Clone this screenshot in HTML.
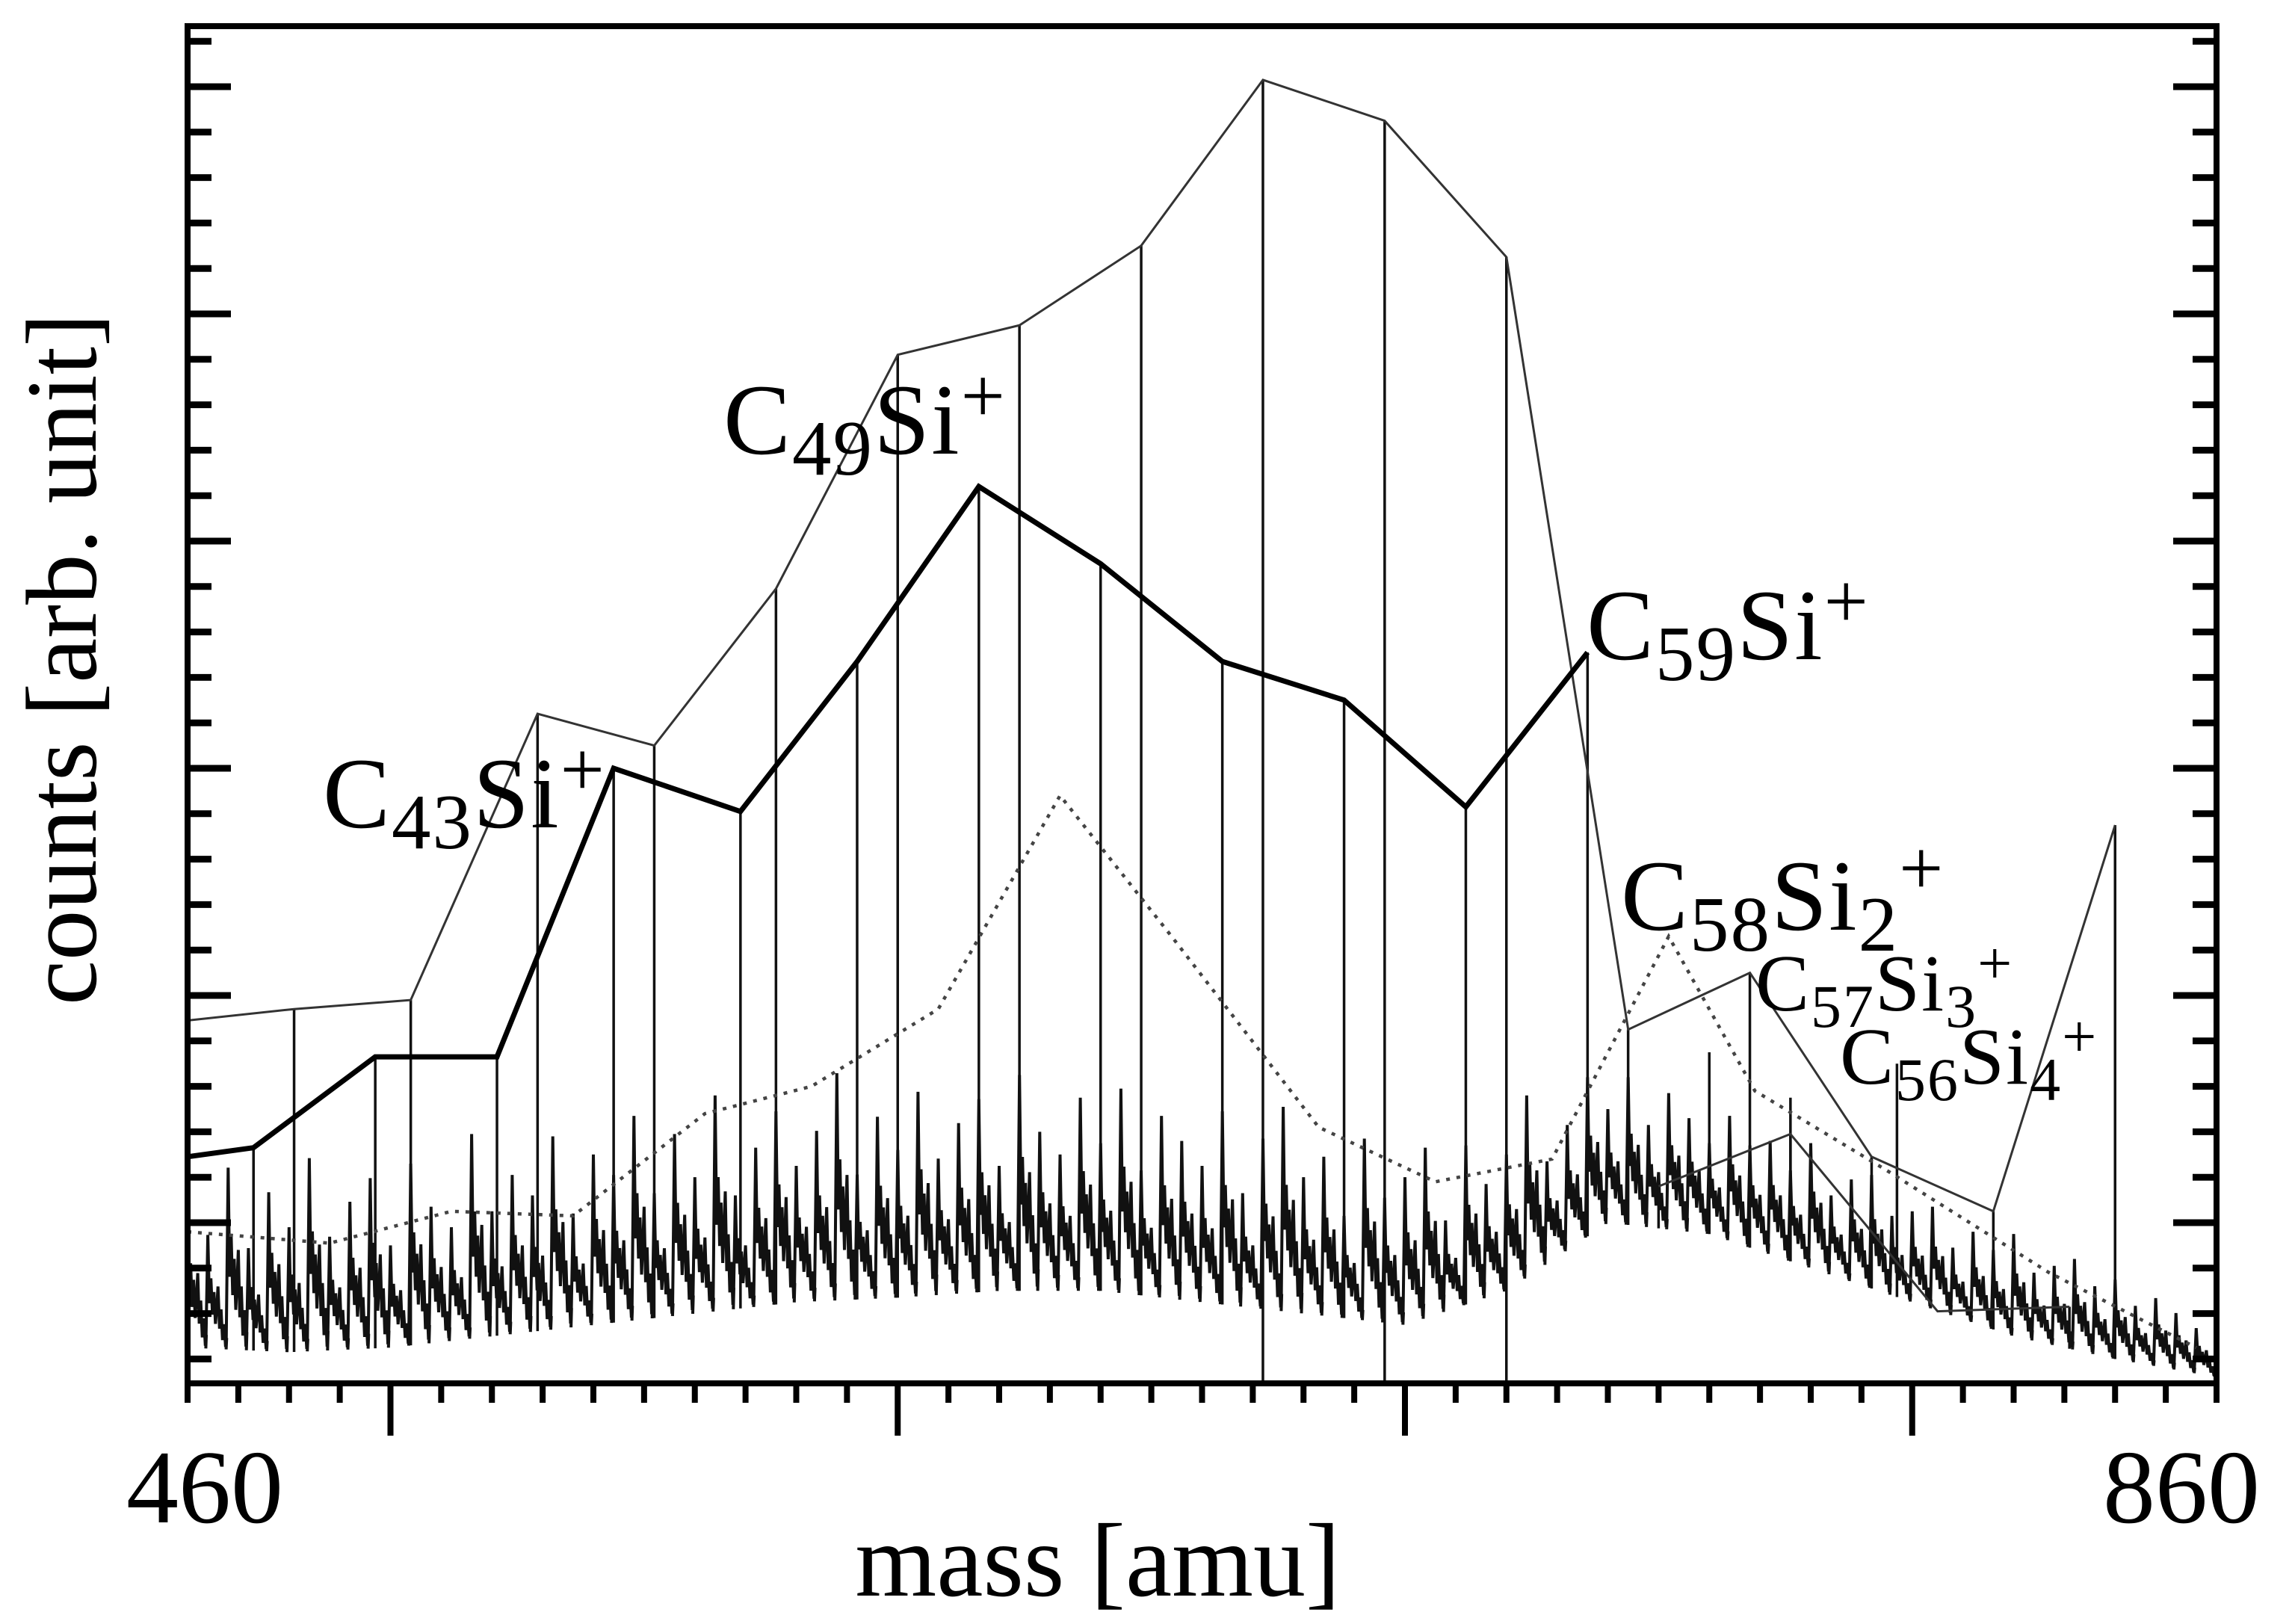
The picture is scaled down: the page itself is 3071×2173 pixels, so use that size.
<!DOCTYPE html>
<html><head><meta charset="utf-8"><style>
html,body{margin:0;padding:0;background:#fff;}
svg{display:block;}
text{font-family:"Liberation Serif",serif;fill:#000;}
</style></head><body>
<svg id="chart" width="3071" height="2173" viewBox="0 0 3071 2173" xmlns="http://www.w3.org/2000/svg">
<g id="noise"></g>
<g id="sticks"></g>
<g id="lines"></g>
<g id="axes"></g>
<g font-size="135" letter-spacing="2">
<text x="432" y="1107">C<tspan font-size="105" dy="28">43</tspan><tspan dy="-28">Si</tspan><tspan font-size="105" dy="-42">+</tspan></text>
<text x="968" y="607">C<tspan font-size="105" dy="28">49</tspan><tspan dy="-28">Si</tspan><tspan font-size="105" dy="-42">+</tspan></text>
<text x="2123" y="882">C<tspan font-size="105" dy="28">59</tspan><tspan dy="-28">Si</tspan><tspan font-size="105" dy="-42">+</tspan></text>
<text x="2169" y="1244">C<tspan font-size="105" dy="28">58</tspan><tspan dy="-28">Si</tspan><tspan font-size="105" dy="28">2</tspan><tspan font-size="105" dy="-75">+</tspan></text>
<text x="2349" y="1352" font-size="108">C<tspan font-size="82" dy="22">57</tspan><tspan dy="-22">Si</tspan><tspan font-size="82" dy="22">3</tspan><tspan font-size="82" dy="-58">+</tspan></text>
<text x="2462" y="1450" font-size="108">C<tspan font-size="82" dy="22">56</tspan><tspan dy="-22">Si</tspan><tspan font-size="82" dy="22">4</tspan><tspan font-size="82" dy="-58">+</tspan></text>
</g>
<text x="274" y="2037" font-size="140" text-anchor="middle">460</text>
<text x="2919" y="2037" font-size="140" text-anchor="middle">860</text>
<text x="1469" y="2135" font-size="140" text-anchor="middle">mass [amu]</text>
<text x="0" y="0" font-size="135" text-anchor="middle" transform="translate(128,882) rotate(-90)">counts [arb. unit]</text>
</svg>
<script>
const envMass=[460,481,504,529,552,576,600,624,648,672,696,720,744,768,792,816,840];
const envVal=[1.89,1.94,1.98,3.24,3.10,3.79,4.82,4.95,5.30,6.03,5.85,5.25,1.85,2.10,1.29,1.05,2.75];
const lowMass=[750,776,805,831];
const lowVal=[1.16,1.39,0.61,0.63];
const boldMass=[460,473,497,521,544,569,592,616,640,664,688,712,736];
const boldVal=[1.29,1.33,1.73,1.73,3.00,2.81,3.47,4.24,3.90,3.47,3.30,2.83,3.51];
const dotMass=[460,488,512,536,562,583,608,632,654,683,706,729,752,769,795,827,856];
const dotVal=[0.96,0.91,1.05,1.03,1.48,1.60,1.94,2.88,2.26,1.42,1.18,1.28,2.26,1.58,1.23,0.78,0.45];
const extraStickMass=[760,776,797,840];
const extraStickVal=[1.75,1.55,1.70,1.45];
const baseMass=[460,480,500,520,540,560,580,600,620,640,660,680,700,720,740,760,780,800,820,840,860];
const baseVal=[0.45,0.43,0.45,0.5,0.55,0.6,0.65,0.67,0.7,0.7,0.65,0.6,0.55,0.7,1.0,0.95,0.8,0.65,0.5,0.4,0.32];
const spikeVal=[0.6,0.5,0.8,0.45,0.7,0.55,0.85,0.5,0.65,0.75,0.45,0.8,0.6,0.5,0.9,0.55,0.7,0.6,0.85,0.5,
0.75,0.65,0.9,0.55,0.8,0.6,0.95,0.5,0.7,0.85,0.6,0.75,1.0,0.55,0.8,0.65,0.9,0.6,0.75,0.85,
0.55,0.95,0.7,0.6,0.85,0.65,0.9,0.55,0.8,0.7,0.6,0.85,0.5,0.75,0.9,0.6,0.7,0.45,0.8,0.55,
0.65,0.75,0.4,0.7,0.5,0.6,0.8,0.45,0.55,0.7,0.5,0.65,0.45,0.6,0.5,0.4,0.55,0.45,0.5,0.4,
0.55,0.35,0.45,0.5,0.35,0.4,0.45,0.3,0.4,0.35,0.45,0.3,0.35,0.4,0.3,0.35,0.25,0.3,0.25,0.2,0.2];
const xMajor=[500,600,700,800];
const yMajor=[1,2,3,4,5,6];

const NS='http://www.w3.org/2000/svg';
const L=251,R=2966,T=35,B=1851;
function X(m){return L+(m-460)*(R-L)/400;}
function Y(v){return 1636-(v-1)*304;}
function mk(tag,attrs,parent){const e=document.createElementNS(NS,tag);for(const k in attrs)e.setAttribute(k,attrs[k]);parent.appendChild(e);return e;}
function interp(xs,ys,x){if(x<=xs[0])return ys[0];for(let i=1;i<xs.length;i++){if(x<=xs[i]){const t=(x-xs[i-1])/(xs[i]-xs[i-1]);return ys[i-1]+t*(ys[i]-ys[i-1]);}}return ys[ys.length-1];}
function clampY(v){return Math.min(B,Math.max(T,Y(v)));}

// noise spectrum
const noiseG=document.getElementById('noise');
const offs=[-0.4,0,0.3,0.6,0.9,1.2,1.5,1.8,2.0,2.3,2.6,2.9,3.2,3.5,3.7];
const fr=[0,1,0.4,0.62,0.3,0.5,0.22,0.4,0.55,0.18,0.35,0.08,0.22,0.02,0.1];
let d='';
spikeVal.forEach((h,i)=>{
  const m=460+4*i;
  offs.forEach((o,k)=>{
    const mm=m+o; if(mm<460||mm>860)return;
    const b=interp(baseMass,baseVal,mm);
    const px=X(mm),py=clampY(b+h*fr[k]);
    d+=(d?'L':'M')+px.toFixed(1)+','+py.toFixed(1);
  });
});
const np=mk('path',{d:d,fill:'none',stroke:'#111','stroke-width':4,'stroke-linejoin':'miter'},noiseG);



// sticks
const sticksG=document.getElementById('sticks');
function stick(m,v,full){
  const b=full?0.29:interp(baseMass,baseVal,m);
  const s=mk('line',{x1:X(m),x2:X(m),y1:clampY(v),y2:clampY(b),stroke:'#111','stroke-width':3.5},sticksG);
  
  
}
envMass.forEach((m,i)=>{if(i>0)stick(m,envVal[i],m>=672&&m<=720);});
boldMass.forEach((m,i)=>{if(i>0)stick(m,boldVal[i],false);});
lowMass.forEach((m,i)=>stick(m,lowVal[i],false));
extraStickMass.forEach((m,i)=>stick(m,extraStickVal[i],false));

// lines
const linesG=document.getElementById('lines');
function poly(ms,vs,attrs,name){
  const pts=ms.map((m,i)=>X(m).toFixed(1)+','+Y(vs[i]).toFixed(1)).join(' ');
  const p=mk('polyline',Object.assign({points:pts,fill:'none'},attrs),linesG);
  
  
}
poly(envMass,envVal,{stroke:'#333','stroke-width':3},'total-envelope-line');
poly(lowMass,lowVal,{stroke:'#333','stroke-width':3},'minor-envelope-line');
poly(dotMass,dotVal,{stroke:'#444','stroke-width':4.5,'stroke-dasharray':'5 9'},'dotted-series-line');
poly(boldMass,boldVal,{stroke:'#000','stroke-width':7,'stroke-linejoin':'miter'},'csi-series-line');

// axes
const ax=document.getElementById('axes');
const fr2=mk('rect',{x:L,y:T,width:R-L,height:B-T,fill:'none',stroke:'#000','stroke-width':8},ax);


for(let m=460;m<=860;m+=10){
  const maj=xMajor.indexOf(m)>=0;
  const t=mk('line',{x1:X(m),x2:X(m),y1:B,y2:B+(maj?70:26),stroke:'#000','stroke-width':8},ax);
  
  
}
for(let k=0;k<=30;k++){
  const v=0.4+k*0.2;const py=Y(v);
  if(py<T+5||py>B-5)continue;
  const maj=yMajor.some(y=>Math.abs(y-v)<1e-6);
  const len=maj?58:32;
  const t1=mk('line',{x1:L,x2:L+len,y1:py,y2:py,stroke:'#000','stroke-width':9},ax);
  
  
  const t2=mk('line',{x1:R-len,x2:R,y1:py,y2:py,stroke:'#000','stroke-width':9},ax);
  
  
}
</script>
</body></html>
